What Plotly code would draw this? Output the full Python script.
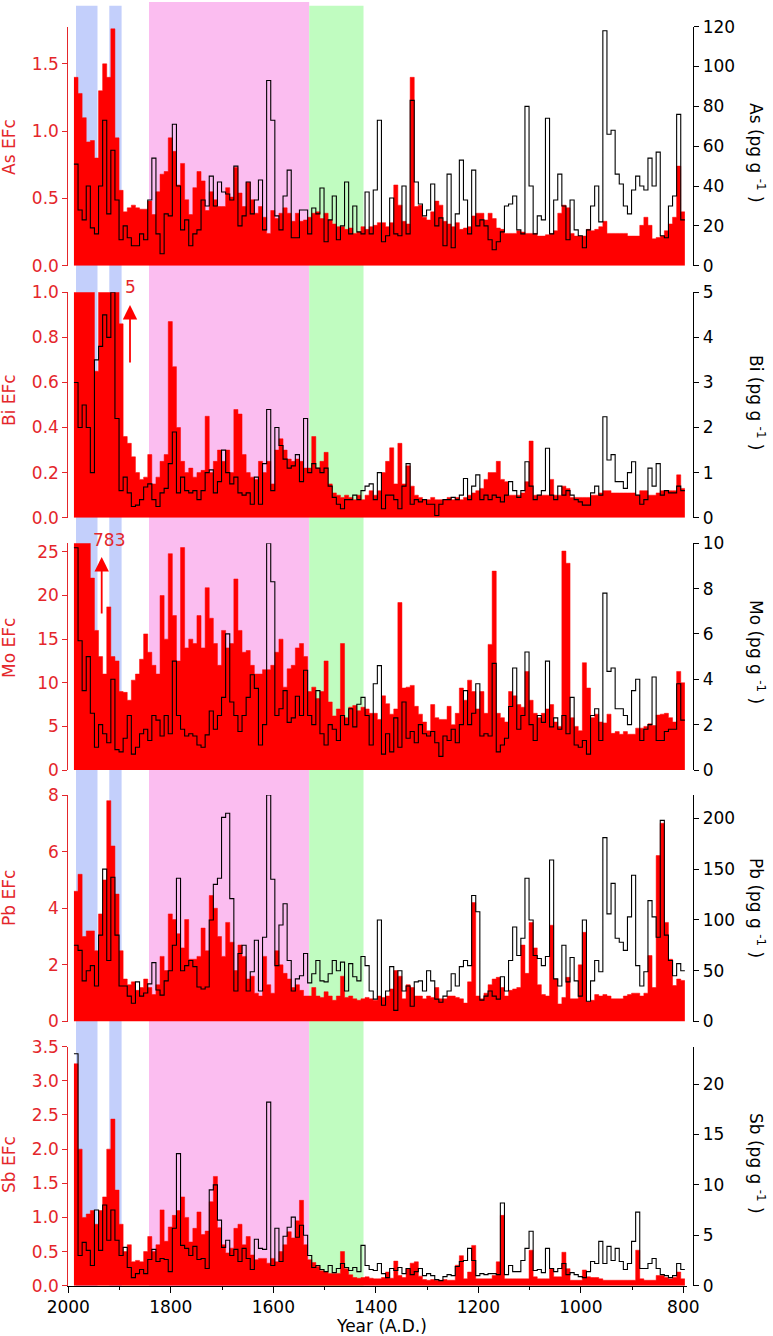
import plotly.graph_objects as go

W, H = 773, 1336

# start year of each sample (youngest first) and the end of the record
years = list(range(1989, 797, -8))
end_year = 797

as_efc = [1.4, 1.28, 1.1, 0.92, 0.93, 0.8, 1.3, 1.5, 1.4, 1.76,
          0.95, 0.56, 0.4, 0.43, 0.45, 0.43, 0.42, 0.42, 0.48, 0.38,
          0.55, 0.68, 0.7, 0.95, 0.85, 0.6, 0.76, 0.49, 0.38, 0.58,
          0.7, 0.63, 0.41, 0.55, 0.49, 0.44, 0.44, 0.58, 0.51, 0.73,
          0.54, 0.44, 0.62, 0.49, 0.39, 0.44, 0.36, 0.24, 0.41, 0.35,
          0.39, 0.43, 0.39, 0.33, 0.39, 0.33, 0.34, 0.36, 0.39, 0.4,
          0.35, 0.39, 0.34, 0.31, 0.29, 0.29, 0.27, 0.28, 0.24, 0.25,
          0.29, 0.27, 0.29, 0.3, 0.32, 0.32, 0.29, 0.32, 0.6, 0.45,
          0.33, 0.31, 1.4, 0.44, 0.45, 0.36, 0.34, 0.4, 0.48, 0.45,
          0.33, 0.31, 0.29, 0.32, 0.27, 0.28, 0.29, 0.37, 0.39, 0.39,
          0.34, 0.39, 0.35, 0.28, 0.27, 0.24, 0.24, 0.24, 0.26, 0.25,
          0.24, 0.24, 0.24, 0.22, 0.22, 0.23, 0.24, 0.26, 0.39, 0.45,
          0.43, 0.24, 0.22, 0.22, 0.22, 0.27, 0.26, 0.27, 0.29, 0.33,
          0.24, 0.24, 0.24, 0.24, 0.24, 0.22, 0.22, 0.22, 0.3, 0.36,
          0.3, 0.2, 0.21, 0.22, 0.26, 0.31, 0.36, 0.74, 0.4]

as_conc = [51, 28, 23, 40, 19, 16, 40, 73, 26, 58,
           33, 13, 20, 14, 10, 10, 16, 13, 33, 54,
           16, 6, 26, 25, 71, 40, 18, 23, 10, 16,
           18, 33, 30, 45, 30, 42, 37, 36, 33, 50,
           20, 25, 42, 26, 33, 43, 18, 93, 73, 25,
           18, 35, 48, 14, 14, 28, 28, 16, 29, 26,
           39, 12, 23, 35, 13, 20, 42, 16, 30, 17,
           16, 37, 16, 38, 73, 12, 15, 34, 16, 15,
           40, 16, 83, 42, 31, 25, 28, 41, 20, 24,
           10, 46, 9, 26, 53, 33, 16, 48, 20, 23,
           20, 13, 8, 12, 17, 30, 31, 35, 18, 16,
           80, 40, 16, 25, 23, 74, 16, 33, 46, 30,
           13, 33, 18, 15, 9, 18, 30, 40, 22, 118,
           66, 68, 46, 41, 30, 26, 38, 45, 40, 38,
           54, 40, 57, 15, 14, 30, 35, 76, 23]

bi_efc = [1.5, 1.5, 2.0, 1.5, 1.3, 0.65, 1.5, 3.0, 5.0, 2.0,
          1.2, 0.86, 0.36, 0.33, 0.27, 0.2, 0.17, 0.18, 0.28, 0.15,
          0.18, 0.25, 0.28, 0.87, 0.67, 0.4, 0.25, 0.2, 0.22, 0.18,
          0.2, 0.21, 0.45, 0.2, 0.25, 0.3, 0.25, 0.3, 0.2, 0.48,
          0.46, 0.28, 0.2, 0.18, 0.17, 0.25, 0.2, 0.25, 0.15, 0.3,
          0.35, 0.3, 0.26, 0.25, 0.26, 0.25, 0.22, 0.22, 0.36, 0.22,
          0.25, 0.29, 0.15, 0.11, 0.1, 0.09, 0.1, 0.09, 0.08, 0.1,
          0.08, 0.1, 0.12, 0.1, 0.12, 0.2, 0.25, 0.31, 0.15, 0.33,
          0.15, 0.23, 0.14, 0.1, 0.09, 0.08, 0.08, 0.09, 0.08, 0.08,
          0.08, 0.09, 0.08, 0.09, 0.08, 0.09, 0.1, 0.11, 0.12, 0.13,
          0.17, 0.2, 0.2, 0.25, 0.17, 0.16, 0.1, 0.1, 0.1, 0.11,
          0.16, 0.34, 0.1, 0.1, 0.1, 0.1, 0.17, 0.1, 0.1, 0.14,
          0.13, 0.09, 0.09, 0.09, 0.09, 0.09, 0.1, 0.1, 0.11, 0.12,
          0.12, 0.11, 0.11, 0.11, 0.11, 0.11, 0.11, 0.1, 0.12, 0.12,
          0.1, 0.1, 0.11, 0.12, 0.12, 0.12, 0.12, 0.19, 0.13]

bi_conc = [3.0, 2.0, 2.5, 2.0, 1.0, 3.5, 3.8, 4.5, 4.0, 5.0,
           2.2, 0.6, 0.9, 0.55, 0.25, 0.28, 0.4, 0.68, 0.75, 0.4,
           0.25, 0.55, 0.65, 1.2, 1.9, 0.55, 0.9, 0.6, 0.55, 0.6,
           0.4, 0.6, 1.0, 1.06, 0.55, 0.8, 1.5, 1.0, 0.75, 0.9,
           0.55, 0.5, 0.55, 0.3, 0.9, 0.3, 1.2, 2.4, 0.6, 2.0,
           1.6, 1.3, 1.1, 1.15, 1.4, 0.8, 2.2, 1.0, 1.2, 1.1,
           1.0, 1.1, 0.7, 0.45, 0.3, 0.2, 0.4, 0.4, 0.5, 0.4,
           0.6, 0.7, 0.75, 0.4, 1.0, 0.2, 0.5, 0.5, 0.4, 0.2,
           0.7, 1.2, 0.3, 0.4, 0.35, 0.4, 0.3, 0.3, 0.05, 0.3,
           0.4, 0.4, 0.45, 0.4, 0.5, 0.87, 0.4, 0.7, 0.95, 0.4,
           0.5, 0.4, 0.5, 0.45, 0.35, 0.5, 0.8, 0.6, 0.45, 0.6,
           1.24, 0.7, 0.4, 0.5, 0.6, 1.54, 0.5, 0.4, 0.7, 0.5,
           0.6, 0.5, 0.4, 0.35, 0.28, 0.28, 0.55, 0.7, 0.5, 2.24,
           1.28, 1.4, 0.8, 0.8, 0.65, 1.0, 1.24, 0.5, 0.3, 0.4,
           1.1, 0.7, 1.2, 0.5, 0.6, 0.55, 0.55, 0.7, 0.6]

mo_efc = [40, 100, 783, 50, 22, 16, 13, 11, 18.7, 13,
          12.5, 9, 8.9, 8, 10.3, 11, 12.7, 15.6, 13.5, 12,
          11, 20, 15, 24.8, 17.7, 12.5, 25.5, 14, 15, 14.5,
          17.7, 14, 20.9, 17.4, 14.5, 12, 16, 14, 14.5, 21.9,
          16, 13.5, 13.7, 12, 11, 11, 11.5, 11.5, 12, 13.5,
          15, 9.5, 11.6, 12, 14, 14.5, 13, 9, 9.5, 8.2,
          9, 12.5, 7.8, 6.2, 7, 14.5, 6, 7.2, 7.4, 6.8,
          7.2, 7, 6.5, 6.5, 5.8, 8.5, 7.6, 6.4, 7, 19.2,
          9.4, 9.5, 9.7, 7.3, 6.4, 5.5, 4.5, 7.5, 6, 5.8,
          5.8, 7.3, 5.2, 6.5, 9.4, 8, 10.3, 9, 7, 9,
          6.5, 14.4, 22.8, 6.5, 6, 5.5, 9, 8.5, 7.5, 7.2,
          11.3, 8, 6.5, 6, 6.5, 7, 7.5, 5.5, 5, 25.1,
          23.7, 6, 5, 4.5, 12.3, 9.4, 6, 6.4, 5.5, 5.4,
          6.4, 4.2, 4.4, 4.1, 4.4, 4.1, 4.1, 4.8, 4.8, 5,
          5.3, 5.1, 6.3, 6.4, 6.5, 6, 5.5, 11.3, 10]

mo_conc = [9.8, 5.7, 3.5, 5.0, 2.5, 1.0, 2.0, 1.6, 1.2, 4.0,
           0.9, 0.8, 1.4, 2.4, 0.7, 1.0, 1.6, 1.8, 1.3, 2.4,
           2.2, 1.5, 2.4, 1.6, 4.8, 2.4, 1.8, 1.5, 1.6, 1.5,
           1.1, 1.0, 1.55, 2.6, 1.8, 2.4, 3.2, 6.0, 3.0, 2.4,
           1.7, 2.4, 3.2, 4.2, 3.6, 1.1, 2.0, 10, 8.3, 2.4,
           2.7, 3.5, 2.1, 2.3, 3.25, 2.4, 4.4, 2.4, 2.0, 3.5,
           1.6, 1.1, 2.0, 1.8, 1.3, 2.4, 2.0, 2.7, 1.9, 2.9,
           3.2, 2.4, 1.1, 3.8, 4.6, 0.7, 1.6, 0.8, 2.3, 1.0,
           3.0, 1.4, 1.7, 1.2, 2.0, 1.6, 1.5, 1.7, 1.2, 0.6,
           1.5, 1.3, 1.8, 1.2, 2.0, 3.5, 2.0, 2.5, 3.8, 1.5,
           1.6, 1.5, 4.7, 0.8, 1.1, 1.4, 2.8, 4.5, 1.8, 2.4,
           5.2, 2.0, 1.3, 2.4, 2.1, 4.8, 1.9, 2.3, 1.8, 2.4,
           1.6, 3.2, 1.1, 1.0, 1.3, 0.7, 2.4, 2.7, 1.3, 7.8,
           4.35, 4.5, 2.7, 2.7, 2.4, 2.0, 3.5, 4.0, 1.3, 1.8,
           2.0, 4.1, 1.3, 1.3, 1.7, 1.8, 1.8, 3.8, 2.2]

pb_efc = [4.6, 5.2, 3.0, 3.2, 3.2, 2.5, 3.8, 5.0, 7.8, 6.2,
          4.5, 2.5, 1.5, 1.3, 1.4, 1.1, 1.2, 1.5, 1.2, 0.95,
          1.3, 2.3, 1.8, 3.8, 3.6, 3.1, 2.6, 3.6, 2.2, 2.2,
          2.3, 3.3, 2.5, 4.45, 4.0, 3.0, 2.3, 3.5, 2.8, 1.8,
          2.7, 2.3, 1.5, 1.6, 1.0, 0.9, 2.3, 1.3, 1.0, 2.5,
          2.0, 1.7, 1.5, 1.2, 1.3, 1.1, 0.9, 0.9, 1.2, 0.9,
          0.85, 1.05, 0.9, 0.75, 0.9, 1.6, 0.85, 0.9, 0.8, 0.75,
          0.8, 0.85, 0.8, 0.75, 0.9, 0.85, 0.9, 1.15, 1.8, 1.6,
          0.8, 1.3, 1.2, 0.9, 0.9, 0.8, 0.9, 0.85, 1.2, 0.8,
          0.8, 0.9, 0.9, 0.85, 0.8, 0.65, 1.4, 4.2, 0.9, 0.8,
          1.0, 1.3, 1.5, 1.56, 1.2, 0.9, 1.1, 1.15, 1.2, 2.7,
          1.7, 3.5, 2.6, 1.3, 0.95, 0.9, 3.4, 1.5, 0.62, 0.85,
          1.56, 0.8, 0.8, 2.0, 3.15, 0.7, 0.75, 0.95, 0.9, 0.95,
          0.9, 0.8, 0.8, 0.8, 0.9, 0.95, 1.0, 1.0, 0.9, 1.0,
          2.33, 1.2, 5.86, 7.0, 3.5, 2.2, 1.27, 1.5, 1.45]

pb_conc = [75, 70, 40, 50, 55, 35, 85, 150, 60, 142,
           85, 35, 35, 25, 18, 39, 25, 28, 37, 58,
           31, 26, 40, 50, 75, 141, 50, 55, 60, 54,
           34, 32, 34, 100, 135, 141, 201, 205, 121, 30,
           67, 75, 30, 49, 80, 30, 83, 223, 140, 55,
           95, 116, 60, 30, 42, 45, 67, 38, 47, 60,
           40, 39, 47, 60, 50, 58.5, 30, 57, 44, 40,
           64, 55, 30, 22, 100, 16, 30, 54, 11, 50,
           30, 35, 15, 39, 40, 30, 50, 40, 22, 19,
           25, 30, 47, 35, 54, 60, 55, 124, 108, 21,
           25, 30, 25, 22, 44, 30, 60, 93, 65, 82,
           141, 100, 65, 62, 55, 64, 159, 42, 35, 75,
           39, 63, 40, 25, 100, 20, 40, 60, 49, 181,
           106, 136, 82, 78, 70, 103, 144, 55, 35, 49,
           119, 103, 83, 198, 85, 60, 45, 57, 50]

sb_efc = [3.25, 2.0, 1.0, 1.05, 1.1, 0.9, 1.1, 1.3, 2.0, 2.44,
          1.4, 0.9, 0.5, 0.6, 0.35, 0.37, 0.35, 0.5, 0.72, 0.5,
          0.6, 1.11, 0.65, 0.86, 1.03, 1.1, 1.3, 1.0, 0.64, 0.84,
          1.08, 0.75, 0.8, 1.23, 1.6, 0.85, 0.6, 0.48, 0.55, 0.84,
          0.9, 0.6, 0.72, 0.45, 0.38, 0.4, 0.4, 0.33, 0.4, 0.35,
          0.5, 0.6, 0.79, 0.7, 0.95, 1.25, 0.6, 0.38, 0.34, 0.28,
          0.22, 0.2, 0.18, 0.18, 0.18, 0.5, 0.25, 0.16, 0.12, 0.11,
          0.12, 0.13, 0.11, 0.1, 0.1, 0.12, 0.2, 0.11, 0.36, 0.15,
          0.12, 0.25, 0.33, 0.35, 0.14, 0.09, 0.08, 0.09, 0.08, 0.08,
          0.09, 0.08, 0.08, 0.3, 0.44, 0.1, 0.2, 0.59, 0.1, 0.1,
          0.1, 0.1, 0.15, 0.35, 1.03, 0.1, 0.1, 0.1, 0.1, 0.1,
          0.1, 0.52, 0.13, 0.1, 0.1, 0.1, 0.25, 0.13, 0.13, 0.49,
          0.25, 0.08, 0.08, 0.08, 0.23, 0.13, 0.12, 0.12, 0.1, 0.08,
          0.08, 0.08, 0.08, 0.08, 0.08, 0.08, 0.08, 0.52, 0.1, 0.08,
          0.08, 0.08, 0.15, 0.15, 0.12, 0.1, 0.12, 0.2, 0.1]

sb_conc = [23, 3.0, 4.3, 3.5, 2.0, 7.5, 3.5, 8.0, 4.5, 7.5,
           4.5, 3.0, 3.8, 1.8, 0.8, 1.2, 1.6, 1.2, 2.6, 3.6,
           2.4, 2.7, 2.6, 1.4, 5.7, 13.1, 4.0, 3.7, 3.0, 3.9,
           2.6, 2.7, 1.7, 9.5, 10.0, 6.5, 3.8, 4.5, 3.0, 3.6,
           2.4, 3.7, 2.7, 1.6, 4.6, 3.7, 3.6, 18.2, 2.0, 5.7,
           2.4, 4.9, 5.8, 6.8, 4.8, 6.0, 5.0, 3.0, 1.8, 2.0,
           1.6, 1.4, 2.0, 1.3, 1.7, 2.2, 1.8, 1.5, 1.8, 1.4,
           4.0, 2.0, 1.6, 1.5, 2.2, 1.2, 0.8, 1.7, 1.5, 1.8,
           1.2, 1.7, 1.1, 1.4, 1.7, 1.0, 1.2, 1.0, 0.6, 0.5,
           0.9, 1.1, 1.0, 1.9, 2.4, 2.5, 3.7, 2.5, 1.0, 1.2,
           1.1, 1.2, 1.2, 1.1, 8.2, 1.1, 2.0, 1.4, 1.4, 2.5,
           3.7, 5.4, 1.5, 1.6, 1.3, 3.7, 1.7, 1.4, 1.7, 2.2,
           1.1, 1.3, 1.1, 0.9, 0.8, 1.4, 2.4, 2.2, 4.4, 2.2,
           3.9, 2.5, 3.7, 2.4, 1.6, 2.2, 4.4, 7.3, 1.7, 1.7,
           2.2, 2.7, 1.7, 1.1, 1.0, 0.8, 1.0, 2.2, 1.6]

elements = ['As', 'Bi', 'Mo', 'Pb', 'Sb']
efc_series = [as_efc, bi_efc, mo_efc, pb_efc, sb_efc]
conc_series = [as_conc, bi_conc, mo_conc, pb_conc, sb_conc]

x_ticks = [2000, 1800, 1600, 1400, 1200, 1000, 800]
x_minor = [1900, 1700, 1500, 1300, 1100, 900]

# layout per panel: pixel extent, axis ranges and ticks
panel_px = [(26.7, 265.7), (292.3, 517.7), (543.2, 770.0), (795.0, 1021.5), (1046.7, 1285.7)]
left_range = [[0, 1.776], [0, 1.0], [0, 26], [0, 8], [0, 3.5]]
left_ticks = [[0, 0.5, 1.0, 1.5], [0, 0.2, 0.4, 0.6, 0.8, 1.0], [0, 5, 10, 15, 20, 25],
              [0, 2, 4, 6, 8], [0, 0.5, 1.0, 1.5, 2.0, 2.5, 3.0, 3.5]]
left_fmt = ['.1f', '.1f', 'd', 'd', '.1f']
right_range = [[0, 120], [0, 5], [0, 10], [0, 223], [0, 23.7]]
right_ticks = [[0, 20, 40, 60, 80, 100, 120], [0, 1, 2, 3, 4, 5], [0, 2, 4, 6, 8, 10],
               [0, 50, 100, 150, 200], [0, 5, 10, 15, 20]]
left_title_px = [147, 400, 648, 898, 1165]
right_title_px = [153, 403, 652, 908, 1163]

RED = '#ff0000'
TRED = '#e4262b'
FONT = 'DejaVu Sans'
FS = 17


def yp(px):
    return 1 - px / H


def xp(px):
    return px / W


x_dom = [xp(68.3), xp(686.7)]
x_range = [2000, 793.4]
xs = years + [end_year]

fig = go.Figure()
layout = dict(width=W, height=H, margin=dict(l=0, r=0, t=0, b=0, autoexpand=False),
              paper_bgcolor='white', plot_bgcolor='rgba(0,0,0,0)',
              showlegend=False, font=dict(family=FONT, size=FS, color='black'))

annotations = []
for i, el in enumerate(elements):
    xname = 'x' if i == 0 else f'x{i + 1}'
    xkey = 'xaxis' if i == 0 else f'xaxis{i + 1}'
    yl = 'y' if i == 0 else f'y{2 * i + 1}'
    ylkey = 'yaxis' if i == 0 else f'yaxis{2 * i + 1}'
    yr = f'y{2 * i + 2}'
    yrkey = f'yaxis{2 * i + 2}'
    efc = efc_series[i]
    conc = conc_series[i]
    fig.add_trace(go.Scatter(x=xs, y=efc + [efc[-1]], xaxis=xname, yaxis=yl, mode='lines',
                             line=dict(shape='hv', width=0.5, color=RED),
                             fill='tozeroy', fillcolor=RED, hoverinfo='skip'))
    fig.add_trace(go.Scatter(x=xs, y=conc + [conc[-1]], xaxis=xname, yaxis=yr, mode='lines',
                             line=dict(shape='hv', width=1.1, color='black'), hoverinfo='skip'))
    bottom = (i == len(elements) - 1)
    xa = dict(domain=x_dom, range=x_range, anchor=yl, showgrid=False, zeroline=False,
              automargin=False)
    if bottom:
        xa.update(showline=True, linecolor='black', linewidth=1, ticks='outside', ticklen=6,
                  tickcolor='black', tickvals=x_ticks, tickfont=dict(size=FS, color='black'),
                  minor=dict(tickvals=x_minor, ticks='outside', ticklen=3, tickcolor='black'))
    else:
        xa.update(visible=False)
    layout[xkey] = xa
    top_px, bot_px = panel_px[i]
    layout[ylkey] = dict(domain=[yp(bot_px), yp(top_px)], range=left_range[i], anchor=xname,
                         side='left', showline=True, linecolor=TRED, linewidth=1,
                         ticks='outside', ticklen=5, tickcolor=TRED, tickvals=left_ticks[i],
                         tickformat=left_fmt[i], tickfont=dict(size=FS, color=TRED),
                         showgrid=False, zeroline=False, automargin=False)
    layout[yrkey] = dict(overlaying=yl, side='right', anchor='free', position=xp(693.3),
                         range=right_range[i], showline=True, linecolor='black', linewidth=1,
                         ticks='outside', ticklen=5, tickcolor='black', tickvals=right_ticks[i],
                         tickfont=dict(size=FS, color='black'), showgrid=False, zeroline=False,
                         automargin=False)
    annotations.append(dict(text=f'{el} EFc', x=xp(9), y=yp(left_title_px[i]), xref='paper',
                            yref='paper', xanchor='center', yanchor='middle', textangle=-90,
                            showarrow=False, font=dict(size=FS, color=TRED)))
    annotations.append(dict(text=f'{el} (pg g <sup>-1</sup> )', x=xp(757),
                            y=yp(right_title_px[i]), xref='paper', yref='paper',
                            xanchor='center', yanchor='middle', textangle=90, showarrow=False,
                            font=dict(size=FS, color='black')))

annotations.append(dict(text='Year (A.D.)', x=xp(381), y=yp(1326), xref='paper', yref='paper',
                        xanchor='center', yanchor='middle', showarrow=False,
                        font=dict(size=FS, color='black')))
# off-scale markers
annotations.append(dict(text='5', x=xp(130), y=yp(287), xref='paper', yref='paper',
                        xanchor='center', yanchor='middle', showarrow=False,
                        font=dict(size=FS, color=TRED)))
annotations.append(dict(text='', x=xp(130), y=yp(305), xref='paper', yref='paper',
                        showarrow=True, ax=0, ay=59, arrowhead=2, arrowsize=1.6,
                        arrowwidth=1.8, arrowcolor=RED))
annotations.append(dict(text='783', x=xp(108.5), y=yp(540), xref='paper', yref='paper',
                        xanchor='center', yanchor='middle', showarrow=False,
                        font=dict(size=FS, color=TRED)))
annotations.append(dict(text='', x=xp(101.7), y=yp(557), xref='paper', yref='paper',
                        showarrow=True, ax=0, ay=58, arrowhead=2, arrowsize=1.6,
                        arrowwidth=1.8, arrowcolor=RED))
layout['annotations'] = annotations

# shaded periods
bands = [(1985, 1943, '#c3cffb', 5.7), (1920, 1896, '#c3cffb', 5.7),
         (1842.5, 1530, '#fbbdf0', 2.0), (1530, 1424, '#c0fcc0', 5.7)]
shapes = []
for x0, x1, col, top in bands:
    shapes.append(dict(type='rect', xref='x', yref='paper', x0=x0, x1=x1,
                       y0=yp(1286.5), y1=yp(top), fillcolor=col, line=dict(width=0),
                       layer='below'))
layout['shapes'] = shapes

fig.update_layout(**layout)
fig.write_html('out.html', config={'displayModeBar': False},
               post_script="document.body.style.margin='0';")
